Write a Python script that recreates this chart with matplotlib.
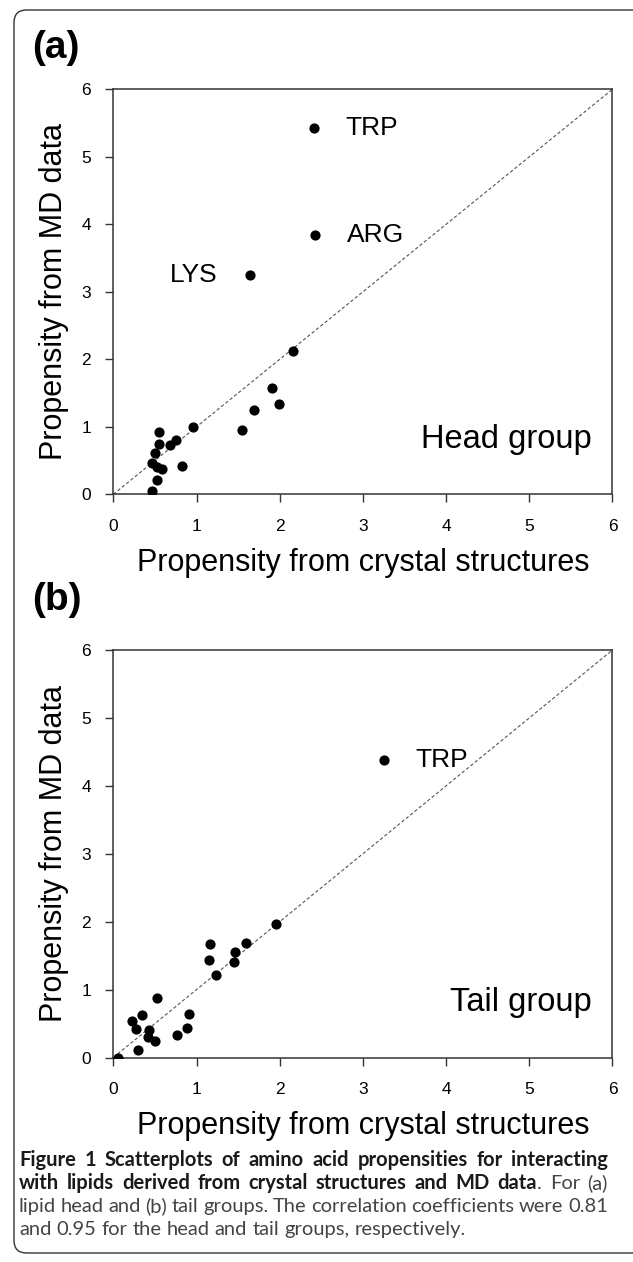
import matplotlib
matplotlib.use("Agg")
import matplotlib.pyplot as plt
from matplotlib.patches import FancyBboxPatch

# ---- data ----
head_x = [2.41, 2.42, 1.64, 2.16, 1.91, 1.99, 1.69, 1.55, 0.96, 0.55,
          0.55, 0.75, 0.68, 0.50, 0.46, 0.53, 0.59, 0.82, 0.53, 0.46]
head_y = [5.43, 3.84, 3.25, 2.12, 1.57, 1.34, 1.25, 0.96, 1.00, 0.92,
          0.75, 0.80, 0.73, 0.61, 0.47, 0.41, 0.38, 0.42, 0.21, 0.05]
head_labels = {"TRP": 0, "ARG": 1, "LYS": 2}

tail_x = [3.25, 1.96, 1.16, 1.60, 1.46, 1.15, 1.45, 1.24, 0.53, 0.35,
          0.23, 0.91, 0.27, 0.43, 0.88, 0.42, 0.50, 0.76, 0.30, 0.06]
tail_y = [4.38, 1.96, 1.67, 1.69, 1.55, 1.43, 1.40, 1.22, 0.87, 0.63,
          0.54, 0.64, 0.42, 0.41, 0.43, 0.30, 0.24, 0.33, 0.11, 0.00]
tail_labels = {"TRP": 0}

ticks = [0, 1, 2, 3, 4, 5, 6]
xlabel = "Propensity from crystal structures"
ylabel = "Propensity from MD data"

caption = [
    [("Figure 1 Scatterplots of amino acid propensities for interacting", True)],
    [("with lipids derived from crystal structures and MD data", True), (". For (a)", False)],
    [("lipid head and (b) tail groups. The correlation coefficients were 0.81", False)],
    [("and 0.95 for the head and tail groups, respectively.", False)],
]

W, H = 633, 1262
DPI = 100
AXFONT = ["Liberation Sans", "DejaVu Sans"]
CAPFONT = ["Lato", "DejaVu Sans"]
INK = "#333333"

fig = plt.figure(figsize=(W / DPI, H / DPI), dpi=DPI)


def px_rect(left, top, right, bottom):
    return [left / W, 1 - bottom / H, (right - left) / W, (bottom - top) / H]


def panel(rect, xs, ys, labels, group, tag, tag_xy):
    ax = fig.add_axes(rect)
    ax.plot([0, 6], [0, 6], ls=(0, (3, 2)), color="#555555", lw=0.8, zorder=1)
    ax.scatter(xs, ys, s=54, color="black", linewidths=0, zorder=3)
    for name, i in labels.items():
        if xs[i] < 2:
            off, ha = (-23, -5), "right"
        else:
            off, ha = (23, -5), "left"
        ax.annotate(name, (xs[i], ys[i]), xytext=off, textcoords="offset points",
                    ha=ha, va="baseline", fontsize=19, family=AXFONT)
    ax.set_xlim(0, 6)
    ax.set_ylim(0, 6)
    ax.set_xticks(ticks)
    ax.set_yticks(ticks)
    for s in ax.spines.values():
        s.set_color(INK)
        s.set_linewidth(1.1)
    ax.tick_params(axis="both", direction="out", length=6, width=1.0, color=INK,
                   labelsize=12.5, top=False, right=False)
    ax.tick_params(axis="x", pad=12)
    ax.tick_params(axis="y", pad=10)
    for t in ax.get_xticklabels() + ax.get_yticklabels():
        t.set_family(AXFONT)
    ax.set_xlabel(xlabel, fontsize=22, family=AXFONT, labelpad=10)
    ax.set_ylabel(ylabel, fontsize=22, family=AXFONT, labelpad=9)
    ax.text(0.959, 0.1136, group, transform=ax.transAxes, ha="right", va="baseline",
            fontsize=23.5, family=AXFONT)
    fig.text(tag_xy[0] / W, 1 - tag_xy[1] / H, tag, ha="left", va="top",
             fontsize=28, fontweight="bold", family=AXFONT)
    return ax


panel(px_rect(113.3, 89.3, 612.5, 494.3), head_x, head_y, head_labels,
      "Head group", "(a)", (32, 30))
panel(px_rect(113.3, 650, 612.5, 1057.5), tail_x, tail_y, tail_labels,
      "Tail group", "(b)", (32, 582))

# rounded frame around the whole figure (right edge runs off the picture)
frame = FancyBboxPatch((14 / W, 1 - 1253 / H), (W + 20) / W, (1253 - 10) / H,
                       boxstyle="round,pad=0,rounding_size=0.02",
                       transform=fig.transFigure, fill=False,
                       edgecolor=INK, linewidth=1.0, mutation_aspect=W / H)
fig.add_artist(frame)

# justified caption
renderer = fig.canvas.get_renderer()
cap_left, cap_right = 19, 608
baselines = [1166, 1189, 1212, 1235]
cap_size = 11.0


def measure(s, bold):
    t = fig.text(0, 0, s, fontsize=cap_size, family=CAPFONT,
                 fontweight="bold" if bold else "normal")
    w = t.get_window_extent(renderer).width
    t.remove()
    return w


# size the caption so that the first line nearly fills the box
first = measure(caption[0][0][0], True)
cap_size = min(14.5, cap_size * (cap_right - cap_left) / first * 0.985)

space_w = measure("x x", False) - measure("xx", False)

for li, chunks in enumerate(caption):
    words = []
    for ci, (text, bold) in enumerate(chunks):
        parts = text.split(" ")
        for pi, p in enumerate(parts):
            if not p:
                continue
            if pi == 0 and ci > 0 and words:
                words[-1].append((p, bold))
            else:
                words.append([(p, bold)])
    widths = [sum(measure(s, b) for s, b in wd) for wd in words]
    if li < len(caption) - 1:
        gap = (cap_right - cap_left - sum(widths)) / (len(words) - 1)
    else:
        gap = space_w
    x = cap_left
    y = 1 - baselines[li] / H
    for wd, ww in zip(words, widths):
        xx = x
        for s, b in wd:
            fig.text(xx / W, y, s, fontsize=cap_size, family=CAPFONT,
                     fontweight="bold" if b else "normal", va="baseline",
                     color="#1a1a1a" if b else "#444444")
            xx += measure(s, b)
        x += ww + gap

fig.savefig("out.png", dpi=DPI)
